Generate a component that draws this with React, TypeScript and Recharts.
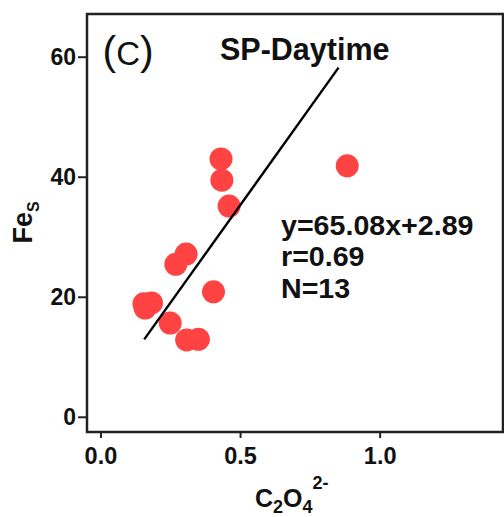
import React from "react";
import {
  ReferenceArea,
  Scatter,
  ScatterChart,
  XAxis,
  YAxis,
} from "recharts";

// C2O4 2- (x) vs Fe_S (y), SP daytime samples
const oxalateValues = [
  0.43, 0.433, 0.459, 0.882, 0.305, 0.268, 0.403, 0.154, 0.181, 0.158, 0.248,
  0.307, 0.349,
];
const feValues = [
  43.05, 39.5, 35.2, 41.9, 27.2, 25.5, 20.9, 18.9, 19.05, 18.2, 15.7, 12.9,
  13.0,
];

// ends of the fitted line y = 65.08x + 2.89
const fitX = [0.155, 0.851];
const fitY = [12.98, 58.27];

const xTicks = [0, 0.5, 1];
const xTickLabels = ["0.0", "0.5", "1.0"];
const yTicks = [0, 20, 40, 60];

const xDomain: [number, number] = [-0.05, 1.44];
const yDomain: [number, number] = [-2.45, 67.2];

const statsLines = ["y=65.08x+2.89", "r=0.69", "N=13"];

const FONT = "'Liberation Sans', Arial, sans-serif";
const INK = "#111";
const DOT = "#ff4343";

const points = oxalateValues.map((x, i) => ({ x, y: feValues[i] }));
const fitLine = fitX.map((x, i) => ({ x, y: fitY[i] }));

type DotProps = { cx?: number; cy?: number };

function RedDot({ cx, cy }: DotProps) {
  if (cx == null || cy == null) return <g />;
  return <circle cx={cx} cy={cy} r={11.5} fill={DOT} />;
}

function NoDot() {
  return <g />;
}

function xTickFormat(value: number) {
  const i = xTicks.indexOf(value);
  return i >= 0 ? xTickLabels[i] : String(value);
}

export default function App() {
  return (
    <div style={{ position: "absolute", left: 0, top: 0, background: "#fff" }}>
      <ScatterChart
        width={504}
        height={517}
        margin={{ top: 14, right: 1, bottom: 0, left: 0 }}
        style={{ fontFamily: FONT }}
      >
        <XAxis
          type="number"
          dataKey="x"
          domain={xDomain}
          ticks={xTicks}
          allowDataOverflow
          height={85}
          axisLine={false}
          tickLine={{ stroke: "#222", strokeWidth: 2 }}
          tickSize={6}
          tickMargin={9}
          tickFormatter={xTickFormat}
          tick={{ fill: INK, fontSize: 23.5, fontWeight: 700 }}
        />
        <YAxis
          type="number"
          dataKey="y"
          domain={yDomain}
          ticks={yTicks}
          allowDataOverflow
          width={87}
          axisLine={false}
          tickLine={{ stroke: "#222", strokeWidth: 2 }}
          tickSize={9}
          tickMargin={2}
          tick={{ fill: INK, fontSize: 23, fontWeight: 700 }}
        />
        <ReferenceArea
          x1={xDomain[0]}
          x2={xDomain[1]}
          y1={yDomain[0]}
          y2={yDomain[1]}
          fill="none"
          stroke="#222"
          strokeWidth={2.5}
          ifOverflow="visible"
        />
        <Scatter
          data={points}
          shape={<RedDot />}
          isAnimationActive={false}
        />
        <Scatter
          data={fitLine}
          line={{ stroke: "#000", strokeWidth: 2.4 }}
          shape={<NoDot />}
          isAnimationActive={false}
        />
      </ScatterChart>
      <svg
        width={504}
        height={517}
        style={{ position: "absolute", left: 0, top: 0, pointerEvents: "none" }}
        fontFamily={FONT}
        fill={INK}
      >
        <text x={102.5} y={65}>
          <tspan fontSize={41}>(</tspan>
          <tspan fontSize={33}>C</tspan>
          <tspan fontSize={41}>)</tspan>
        </text>
        <text x={220} y={59.5} fontSize={30.5} fontWeight={700}>
          SP-Daytime
        </text>
        {statsLines.map((line, i) => (
          <text
            key={line}
            x={281}
            y={235 + i * 31.5}
            fontSize={27}
            fontWeight={700}
            transform={`translate(${281 * -0.06} 0) scale(1.06 1)`}
          >
            {line}
          </text>
        ))}
        <text x={255} y={507} fontSize={25} fontWeight={700}>
          C
          <tspan fontSize={18} dy={6}>2</tspan>
          <tspan fontSize={25} dy={-6}>O</tspan>
          <tspan fontSize={18} dy={6}>4</tspan>
          <tspan fontSize={18} dy={-24}>2-</tspan>
        </text>
        <text
          transform="translate(32 243.5) rotate(-90)"
          fontSize={27}
          fontWeight={700}
        >
          Fe
          <tspan fontSize={16} dy={6.5}>S</tspan>
        </text>
      </svg>
    </div>
  );
}
